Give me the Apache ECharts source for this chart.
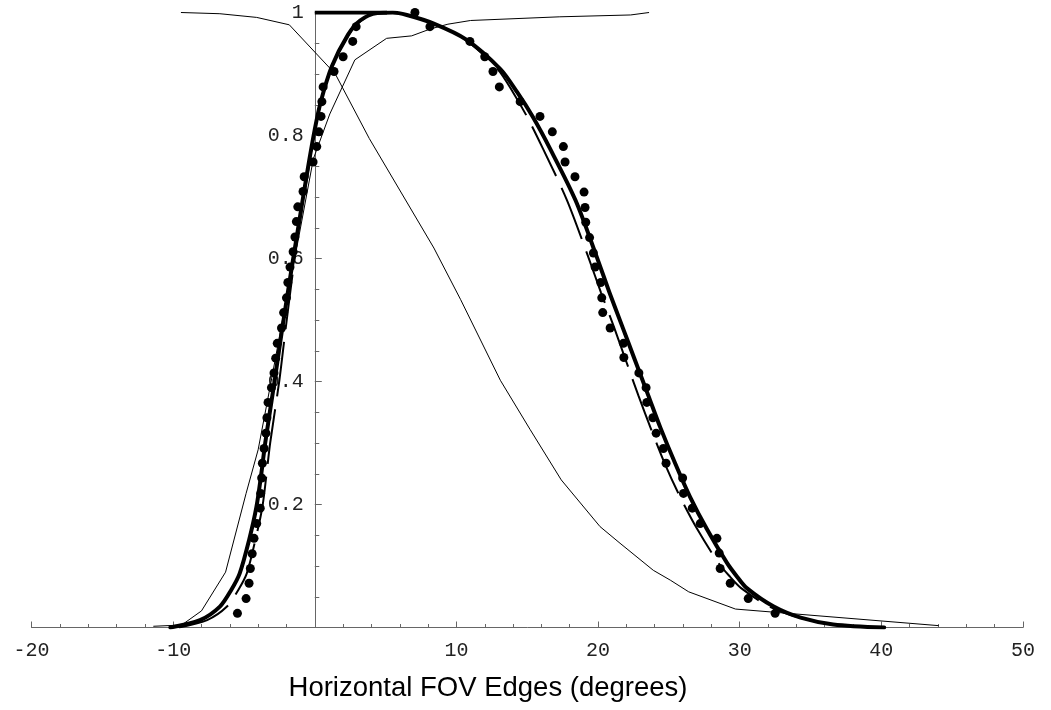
<!DOCTYPE html>
<html>
<head>
<meta charset="utf-8">
<script src="https://cdn.jsdelivr.net/npm/echarts@6/dist/echarts.min.js"></script>
<style>
    html, body {margin: 0; padding: 0; background: #fff;}
    #chart {width: 1051px; height: 710px;}
</style>
</head>
<body>
<div id="chart"></div>
<script>
    // x ticks and y ticks
    var xTicks = [-20, -10, 0, 10, 20, 30, 40, 50];
    var yTicks = [0, 0.2, 0.4, 0.6, 0.8, 1];

    // thick solid fit
    var fitSolid = [
        [-10.2, 0], [-8.1, 0.012], [-6.7, 0.034], [-5.9, 0.061], [-5.3, 0.088], [-4.64, 0.142],
        [-4.12, 0.196], [-3.77, 0.251], [-3.5, 0.3], [-2.83, 0.402], [-2.35, 0.478], [-1.8, 0.56],
        [-1.2, 0.646], [-0.5, 0.745], [0, 0.81], [0.4, 0.853], [1.2, 0.912], [2.35, 0.964],
        [3.2, 0.987], [4.4, 0.999], [5.5, 1.0], [6.5, 0.996], [8.4, 0.982], [10.7, 0.956],
        [13.1, 0.908], [14.3, 0.87], [15.4, 0.83], [16.6, 0.779], [18.4, 0.695], [19.9, 0.603],
        [20.8, 0.545], [21.7, 0.49], [22.6, 0.435], [23.55, 0.377], [24.4, 0.325], [25.44, 0.267],
        [26.5, 0.212], [27.68, 0.16], [29.1, 0.105], [29.8, 0.083], [30.5, 0.064], [32.4, 0.034],
        [34.3, 0.016], [36.6, 0.005], [40.2, 0]
    ];
    // clipped part of the fit along the top
    var fitTop = [[0, 1], [5.1, 1]];

    // dashed fit
    var fitDashed = [
        [-9.6, 0], [-7.6, 0.012], [-6.2, 0.034], [-5.4, 0.061], [-4.8, 0.088], [-4.2, 0.142],
        [-3.7, 0.196], [-3.4, 0.251], [-3.15, 0.3], [-2.5, 0.402], [-2.1, 0.478], [-1.65, 0.56],
        [-1.15, 0.646], [-0.45, 0.745], [0, 0.81], [0.4, 0.853], [1.2, 0.912], [2.4, 0.964],
        [3.3, 0.987], [4.5, 0.999], [5.5, 1.0], [6.5, 0.996], [8.4, 0.982], [10.6, 0.956],
        [12.9, 0.908], [14.0, 0.87], [15.0, 0.83], [16.1, 0.779], [17.8, 0.695], [19.3, 0.603],
        [20.2, 0.545], [21.1, 0.49], [21.95, 0.435], [22.85, 0.377], [23.7, 0.325], [24.7, 0.267],
        [25.8, 0.212], [27.0, 0.16], [28.5, 0.105], [29.3, 0.083], [30.1, 0.064], [32.1, 0.034],
        [34.2, 0.016], [36.5, 0.005], [40, 0]
    ];

    // thin rising edge
    var edgeRise = [
        [-11.4, 0.002], [-9.4, 0.004], [-8.0, 0.027], [-6.3, 0.09], [-4.85, 0.218], [-4.0, 0.289],
        [-3.0, 0.41], [-2.2, 0.51], [-1.3, 0.614], [-0.1, 0.762], [1.06, 0.835], [2.83, 0.923],
        [5.07, 0.958], [6.84, 0.962], [8.13, 0.973], [9.4, 0.981], [11.0, 0.987], [17.3, 0.993],
        [22.3, 0.996], [23.6, 1.0]
    ];

    // thin falling edge
    var edgeFall = [
        [-9.45, 1.0], [-6.7, 0.998], [-4.1, 0.992], [-1.8, 0.98], [1.45, 0.9], [3.85, 0.795],
        [8.41, 0.617], [10.3, 0.533], [13.1, 0.402], [15.2, 0.322], [17.4, 0.24],
        [20.14, 0.164], [21.55, 0.137], [23.9, 0.093], [25.1, 0.077], [26.4, 0.058], [29.7, 0.03],
        [44.05, 0.003]
    ];

    // measured points
    var measured = [
        [-5.46, 0.023], [-4.85, 0.047], [-4.64, 0.072], [-4.55, 0.096], [-4.42, 0.12], [-4.29, 0.145],
        [-4.1, 0.169], [-3.85, 0.194], [-3.82, 0.218], [-3.75, 0.243], [-3.7, 0.267], [-3.58, 0.291],
        [-3.45, 0.316], [-3.38, 0.341], [-3.3, 0.366], [-3.06, 0.39], [-2.88, 0.414], [-2.76, 0.438],
        [-2.65, 0.462], [-2.35, 0.487], [-2.2, 0.512], [-2.0, 0.536], [-1.9, 0.561], [-1.75, 0.586],
        [-1.53, 0.611], [-1.4, 0.635], [-1.3, 0.66], [-1.2, 0.684], [-0.83, 0.709], [-0.75, 0.733],
        [-0.12, 0.757], [0.14, 0.782], [0.29, 0.806], [0.44, 0.831], [0.5, 0.855], [0.59, 0.879],
        [1.36, 0.904], [2.0, 0.928], [2.68, 0.953], [2.92, 0.977],
        [7.07, 1.0], [8.13, 0.977], [10.95, 0.953], [12.0, 0.928], [12.58, 0.904], [13.03, 0.879],
        [14.5, 0.855], [15.9, 0.831], [16.77, 0.806], [17.55, 0.782], [17.67, 0.757], [18.37, 0.733],
        [19.01, 0.708], [19.08, 0.683], [19.13, 0.659], [19.4, 0.634], [19.67, 0.609], [19.79, 0.586],
        [20.19, 0.561], [20.26, 0.536], [20.33, 0.512], [20.85, 0.487], [21.79, 0.462], [21.82, 0.439],
        [22.88, 0.414], [23.39, 0.39], [23.44, 0.366], [23.87, 0.341], [24.1, 0.316], [24.61, 0.291],
        [24.8, 0.267], [25.97, 0.243], [26.03, 0.218], [26.65, 0.194], [27.21, 0.169], [28.39, 0.145],
        [28.55, 0.121], [28.62, 0.096], [29.33, 0.072], [30.6, 0.047], [32.5, 0.023]
    ];

    var axisColor = "#666";
    var labelFont = "'Liberation Mono', 'Courier New', monospace";
    var gridLeft = 31.5, gridRight = 28;
    // move the y axis onto x = 0
    var plotW = 1051 - gridLeft - gridRight;
    var yOffset = -plotW * (0 - xTicks[0]) / (xTicks[xTicks.length - 1] - xTicks[0]);

    var option = {
        animation: false,
        title: {
            text: 'Horizontal FOV Edges (degrees)',
            left: 483,
            top: 669,
            textAlign: 'center',
            textStyle: {
                fontFamily: "'Liberation Sans', Arial, sans-serif",
                fontSize: 27.5,
                fontWeight: 'normal',
                color: '#000'
            }
        },
        grid: {left: gridLeft, right: gridRight, top: 12.5, bottom: 82.5, containLabel: false, outerBoundsMode: 'none'},
        xAxis: {
            type: 'value',
            min: xTicks[0],
            max: xTicks[xTicks.length - 1],
            interval: 10,
            axisLine: {onZero: true, lineStyle: {color: axisColor, width: 1}},
            axisTick: {inside: true, length: 6, lineStyle: {color: axisColor}},
            minorTick: {show: true, splitNumber: 5, length: 3.5, lineStyle: {color: axisColor}},
            splitLine: {show: false},
            axisLabel: {
                margin: 13,
                fontFamily: labelFont,
                fontSize: 20,
                color: '#222',
                formatter: function (v) { return v === 0 ? '' : String(v); }
            }
        },
        yAxis: {
            type: 'value',
            position: 'left',
            offset: yOffset,
            min: yTicks[0],
            max: yTicks[yTicks.length - 1],
            interval: 0.2,
            axisLine: {onZero: false, lineStyle: {color: axisColor, width: 1}},
            axisTick: {inside: true, length: 7, lineStyle: {color: axisColor}},
            minorTick: {show: true, splitNumber: 4, length: 4.5, lineStyle: {color: axisColor}},
            splitLine: {show: false},
            axisLabel: {
                margin: 11,
                fontFamily: labelFont,
                fontSize: 20,
                color: '#222',
                formatter: function (v) { return v === 0 ? '' : String(Math.round(v * 10) / 10); }
            }
        },
        series: [
            {
                name: 'rise', type: 'line', data: edgeRise, showSymbol: false,
                lineStyle: {color: '#000', width: 1}
            },
            {
                name: 'fall', type: 'line', data: edgeFall, showSymbol: false,
                lineStyle: {color: '#000', width: 1}
            },
            {
                name: 'fit', type: 'line', data: fitSolid, showSymbol: false, smooth: 0.3,
                lineStyle: {color: '#000', width: 4, join: 'round', cap: 'round'}
            },
            {
                name: 'fitTop', type: 'line', data: fitTop, showSymbol: false,
                lineStyle: {color: '#000', width: 4}
            },
            {
                name: 'dashed', type: 'line', data: fitDashed, showSymbol: false, smooth: 0.3,
                lineStyle: {color: '#000', width: 2, type: [55, 13]}
            },
            {
                name: 'measured', type: 'scatter', data: measured, symbol: 'circle', symbolSize: 9,
                itemStyle: {color: '#000', opacity: 1}
            }
        ]
    };

    var chart = echarts.init(document.getElementById("chart"));
    chart.setOption(option);
</script>
</body>
</html>
